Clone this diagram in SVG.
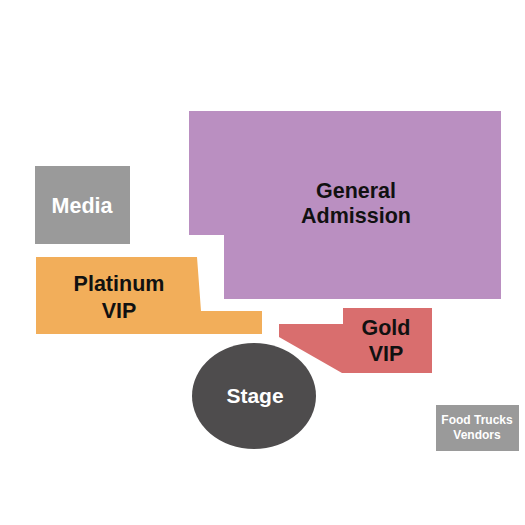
<svg xmlns="http://www.w3.org/2000/svg" width="525" height="525" viewBox="0 0 525 525">
<style>
text{font-family:"Liberation Sans",Arial,sans-serif;font-weight:bold;text-anchor:middle}
.dk{fill:#111}
.wt{fill:#fff}
</style>
<rect width="525" height="525" fill="#fff"/>
<g id="general-admission">
<polygon points="189,111 501,111 501,299 224,299 224,235 189,235" fill="#BA8FC1"/>
<text class="dk" x="356" y="198" font-size="21.5">General</text>
<text class="dk" x="356" y="223" font-size="21.5">Admission</text>
</g>
<g id="media">
<rect x="35" y="166" width="95" height="78" fill="#9A9A9A"/>
<text class="wt" x="82" y="213" font-size="21.5">Media</text>
</g>
<g id="platinum-vip">
<polygon points="36,257 197,257 201,311 262,311 262,334 36,334" fill="#F2AE5A"/>
<text class="dk" x="119" y="291" font-size="21.5">Platinum</text>
<text class="dk" x="119" y="318" font-size="21.5">VIP</text>
</g>
<g id="gold-vip">
<polygon points="343,308 432,308 432,373 342,373 279,337 279,324 343,324" fill="#D96E6E"/>
<text class="dk" x="386" y="335" font-size="21.5">Gold</text>
<text class="dk" x="386" y="361" font-size="21.5">VIP</text>
</g>
<g id="stage">
<ellipse cx="254" cy="396" rx="62" ry="53" fill="#4E4C4D"/>
<text class="wt" x="255" y="403" font-size="21">Stage</text>
</g>
<g id="food-trucks">
<rect x="436" y="405" width="83" height="46" fill="#9A9A9A"/>
<text class="wt" x="477" y="424" font-size="12">Food Trucks</text>
<text class="wt" x="477" y="439" font-size="12">Vendors</text>
</g>
<g id="connectors"/>
</svg>
